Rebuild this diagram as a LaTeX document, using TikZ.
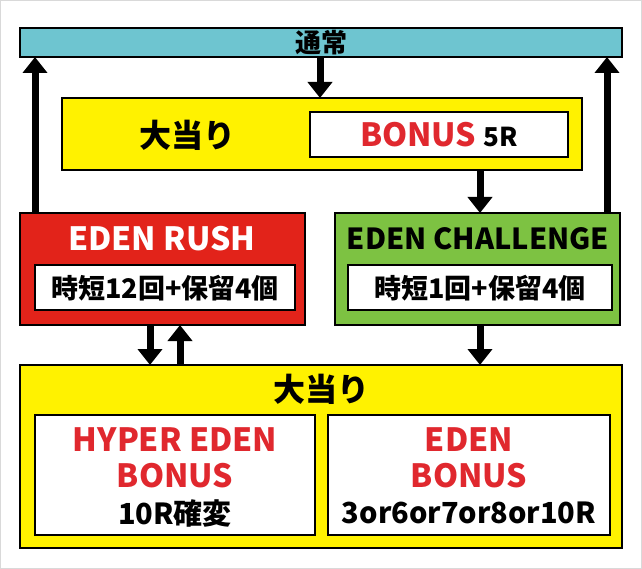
\documentclass[tikz,border=0pt]{standalone}
\usepackage{fontspec}
\setmainfont{Noto Sans CJK JP}
\usetikzlibrary{arrows.meta}
\definecolor{barcyan}{HTML}{6EC5D0}
\definecolor{boxyellow}{HTML}{FFF200}
\definecolor{rushred}{HTML}{E2231A}
\definecolor{chgreen}{HTML}{7DC242}
\definecolor{txtred}{HTML}{E0282E}
\tikzset{every picture/.style={line width=1pt}}
\tikzset{
  panel/.style={draw=black,line width=1.8pt,inner sep=0pt},
  flow/.style={line width=7pt,-{Triangle[length=16pt,width=24pt]}},
  lbl/.style={font=\bfseries\fontsize{27}{29}\selectfont,inner sep=0pt,align=center},
  big/.style={font=\bfseries\fontsize{32}{36}\selectfont}
}
\begin{document}
\begin{tikzpicture}[x=1pt,y=-1pt]
\useasboundingbox (0,0) rectangle (642,569);
\draw [draw=black!15,fill=white] (0.5,0.5) rectangle (641.5,568.5);

% top bar
\draw [panel,fill=barcyan] (20,28) rectangle (622,57);
\node (normal) [lbl,font=\bfseries\fontsize{26}{28}\selectfont] at (321,42.5) {通常};
\coordinate (topL) at (35,57);
\coordinate (topM) at (320,57);
\coordinate (topR) at (607,57);

% first jackpot
\draw [panel,fill=boxyellow] (62,98) rectangle (582,170);
\draw [panel,fill=white] (310,112) rectangle (568,157);
\node (hit1) [lbl,big] at (187,135) {大当り};
\node (bonus) [lbl,big] at (439,135) {\textcolor{txtred}{BONUS} \fontsize{26}{28}\selectfont 5R};
\coordinate (hitT) at (320,98);
\coordinate (hitB) at (480,170);

% EDEN RUSH
\draw [panel,fill=rushred] (20,213) rectangle (305,325);
\draw [panel,fill=white] (35,265) rectangle (295,310);
\node (rush) [lbl,big,white] at (162,239) {EDEN RUSH};
\node (rushsub) [lbl] at (165,288) {時短12回+保留4個};

% EDEN CHALLENGE
\draw [panel,fill=chgreen] (335,213) rectangle (620,325);
\draw [panel,fill=white] (348,265) rectangle (612,310);
\node (chal) [lbl,font=\bfseries\fontsize{29}{31}\selectfont] at (478,239) {EDEN CHALLENGE};
\node (chalsub) [lbl] at (480,288) {時短1回+保留4個};

% second jackpot
\draw [panel,fill=boxyellow] (20,365) rectangle (622,548);
\draw [panel,fill=white] (35,415) rectangle (315,535);
\draw [panel,fill=white] (328,415) rectangle (610,535);
\node (hit2) [lbl,big] at (321,389) {大当り};
\node (hyper) [lbl,big,txtred] at (175,458) {HYPER EDEN\\BONUS};
\node (hypersub) [lbl,font=\bfseries\fontsize{29}{31}\selectfont] at (175,513) {10R確変};
\node (eden) [lbl,big,txtred] at (469,458) {EDEN\\BONUS};
\node (edensub) [lbl,font=\bfseries\fontsize{29}{31}\selectfont] at (469,513) {3or6or7or8or10R};

% arrows
\draw [flow] (35,213) -- (topL);
\draw [flow] (607,213) -- (topR);
\draw [flow] (topM) -- (hitT);
\draw [flow] (hitB) -- (480,213);
\draw [flow] (150,325) -- (150,365);
\draw [flow] (180,365) -- (180,325);
\draw [flow] (480,325) -- (480,365);
\end{tikzpicture}
\end{document}
